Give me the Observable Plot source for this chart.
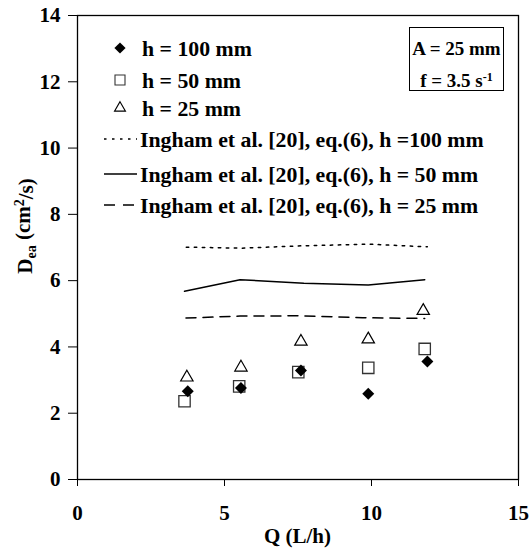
<!DOCTYPE html>
<html>
<head>
<meta charset="utf-8">
<script src="https://cdn.jsdelivr.net/npm/d3@7"></script>
<script src="https://cdn.jsdelivr.net/npm/@observablehq/plot@0.6"></script>
<style>
  html, body { margin: 0; padding: 0; background: #fff; }
</style>
</head>
<body>
<div id="chart"></div>
<script>
// Measured axial dispersion coefficient D_ea (cm²/s) versus flow rate Q (L/h)
const q100 = [3.75, 5.56, 7.60, 9.89, 11.90];
const dea100 = [2.66, 2.76, 3.29, 2.59, 3.56];
const q50 = [3.64, 5.50, 7.51, 9.89, 11.81];
const dea50 = [2.36, 2.81, 3.24, 3.37, 3.94];
const q25 = [3.72, 5.56, 7.60, 9.89, 11.76];
const dea25 = [3.08, 3.38, 4.16, 4.23, 5.09];

// Correlation of Ingham et al. [20], eq.(6)
const qEq100 = [3.70, 5.60, 7.60, 9.90, 11.90];
const deaEq100 = [7.01, 6.98, 7.05, 7.10, 7.02];
const qEq50 = [3.64, 5.53, 7.70, 9.89, 11.81];
const deaEq50 = [5.68, 6.03, 5.92, 5.87, 6.03];
const qEq25 = [3.69, 5.53, 7.60, 9.70, 11.81];
const deaEq25 = [4.87, 4.93, 4.94, 4.88, 4.86];

const xTicks = [0, 5, 10, 15];
const yTicks = [0, 2, 4, 6, 8, 10, 12, 14];

const pointLabels = ["h = 100 mm", "h = 50 mm", "h = 25 mm"];
const lineLabels = [
  "Ingham et al. [20], eq.(6), h =100 mm",
  "Ingham et al. [20], eq.(6), h = 50 mm",
  "Ingham et al. [20], eq.(6), h = 25 mm"
];

const zip = (xs, ys) => xs.map((x, i) => ({x, y: ys[i]}));

const FONT = "'Liberation Serif', 'Times New Roman', Times, serif";
const DOTTED = "2.5,5.5";
const DASHED = "10,7";

const chart = Plot.plot({
  width: 531,
  height: 552,
  marginLeft: 77,
  marginRight: 13,
  marginTop: 15,
  marginBottom: 73,
  x: {domain: [0, 15]},
  y: {domain: [0, 14]},
  style: {fontFamily: FONT, fontSize: "21px", fontWeight: "bold", color: "black", background: "white"},
  marks: [
    Plot.frame({stroke: "black", strokeWidth: 1.3}),
    Plot.axisX({ticks: xTicks, tickSize: 7, tickPadding: 19, label: null, fontSize: 21, fontWeight: "bold"}),
    Plot.axisY({ticks: yTicks, tickSize: 9, tickPadding: 8, label: null, fontSize: 21, fontWeight: "bold"}),
    Plot.line(zip(qEq100, deaEq100), {x: "x", y: "y", stroke: "black", strokeWidth: 1.5, strokeDasharray: DOTTED}),
    Plot.line(zip(qEq50, deaEq50), {x: "x", y: "y", stroke: "black", strokeWidth: 1.5}),
    Plot.line(zip(qEq25, deaEq25), {x: "x", y: "y", stroke: "black", strokeWidth: 1.5, strokeDasharray: DASHED}),
    Plot.dot(zip(q25, dea25), {x: "x", y: "y", symbol: "triangle", r: 4.6, fill: "white", stroke: "black", strokeWidth: 1.2}),
    Plot.dot(zip(q50, dea50), {x: "x", y: "y", symbol: "square", r: 6.4, fill: "white", stroke: "#333", strokeWidth: 1.3}),
    Plot.dot(zip(q100, dea100), {x: "x", y: "y", symbol: "diamond2", r: 5.4, fill: "black", stroke: "none"})
  ]
});

document.getElementById("chart").appendChild(chart);

const svg = d3.select(chart);

// Axis titles
svg.append("text")
  .attr("x", 297.5).attr("y", 543)
  .attr("text-anchor", "middle")
  .style("font", `bold 21px ${FONT}`)
  .text("Q (L/h)");

const yTitle = svg.append("text")
  .attr("transform", "translate(32,226) rotate(-90)")
  .attr("text-anchor", "middle")
  .style("font", `bold 21px ${FONT}`);
yTitle.append("tspan").text("D");
yTitle.append("tspan").attr("dy", "0.25em").style("font-size", "14px").text("ea");
yTitle.append("tspan").attr("dy", "-0.25em").text(" (cm");
yTitle.append("tspan").attr("dy", "-0.45em").style("font-size", "14px").text("2");
yTitle.append("tspan").attr("dy", "0.45em").text("/s)");

// Legend
const legend = svg.append("g")
  .attr("text-anchor", "start")
  .style("font", `bold 21.8px ${FONT}`);
const symbols = [
  {type: d3.symbolDiamond2, size: 80, fill: "black", stroke: "none"},
  {type: d3.symbolSquare, size: 100, fill: "white", stroke: "#333"},
  {type: d3.symbolTriangle, size: 52, fill: "white", stroke: "black"}
];
const pointRows = [48, 80, 108];
pointLabels.forEach((label, i) => {
  const s = symbols[i];
  legend.append("path")
    .attr("transform", `translate(120,${pointRows[i]})`)
    .attr("d", d3.symbol(s.type, s.size)())
    .attr("fill", s.fill).attr("stroke", s.stroke).attr("stroke-width", 1.1);
  legend.append("text")
    .attr("x", 142).attr("y", pointRows[i]).attr("dy", "0.35em")
    .attr("text-anchor", "start")
    .text(label);
});
const lineRows = [139, 174, 205];
const lineDash = [DOTTED, null, "11,8"];
lineLabels.forEach((label, i) => {
  legend.append("line")
    .attr("x1", 104).attr("x2", 137)
    .attr("y1", lineRows[i]).attr("y2", lineRows[i])
    .attr("stroke", "black").attr("stroke-width", 1.5)
    .attr("stroke-dasharray", lineDash[i]);
  legend.append("text")
    .attr("x", 140).attr("y", lineRows[i]).attr("dy", "0.35em")
    .attr("text-anchor", "start")
    .text(label);
});

// Operating conditions box
const box = svg.append("g").style("font", `bold 19px ${FONT}`);
box.append("rect")
  .attr("x", 409.5).attr("y", 27.5).attr("width", 94).attr("height", 63)
  .attr("fill", "white").attr("stroke", "black").attr("stroke-width", 1);
box.append("text")
  .attr("x", 456.5).attr("y", 48).attr("dy", "0.35em")
  .attr("text-anchor", "middle")
  .text("A = 25 mm");
const fText = box.append("text")
  .attr("x", 456.5).attr("y", 80).attr("dy", "0.35em")
  .attr("text-anchor", "middle");
fText.append("tspan").text("f = 3.5 s");
fText.append("tspan").attr("dy", "-0.5em").style("font-size", "12px").text("-1");
</script>
</body>
</html>
